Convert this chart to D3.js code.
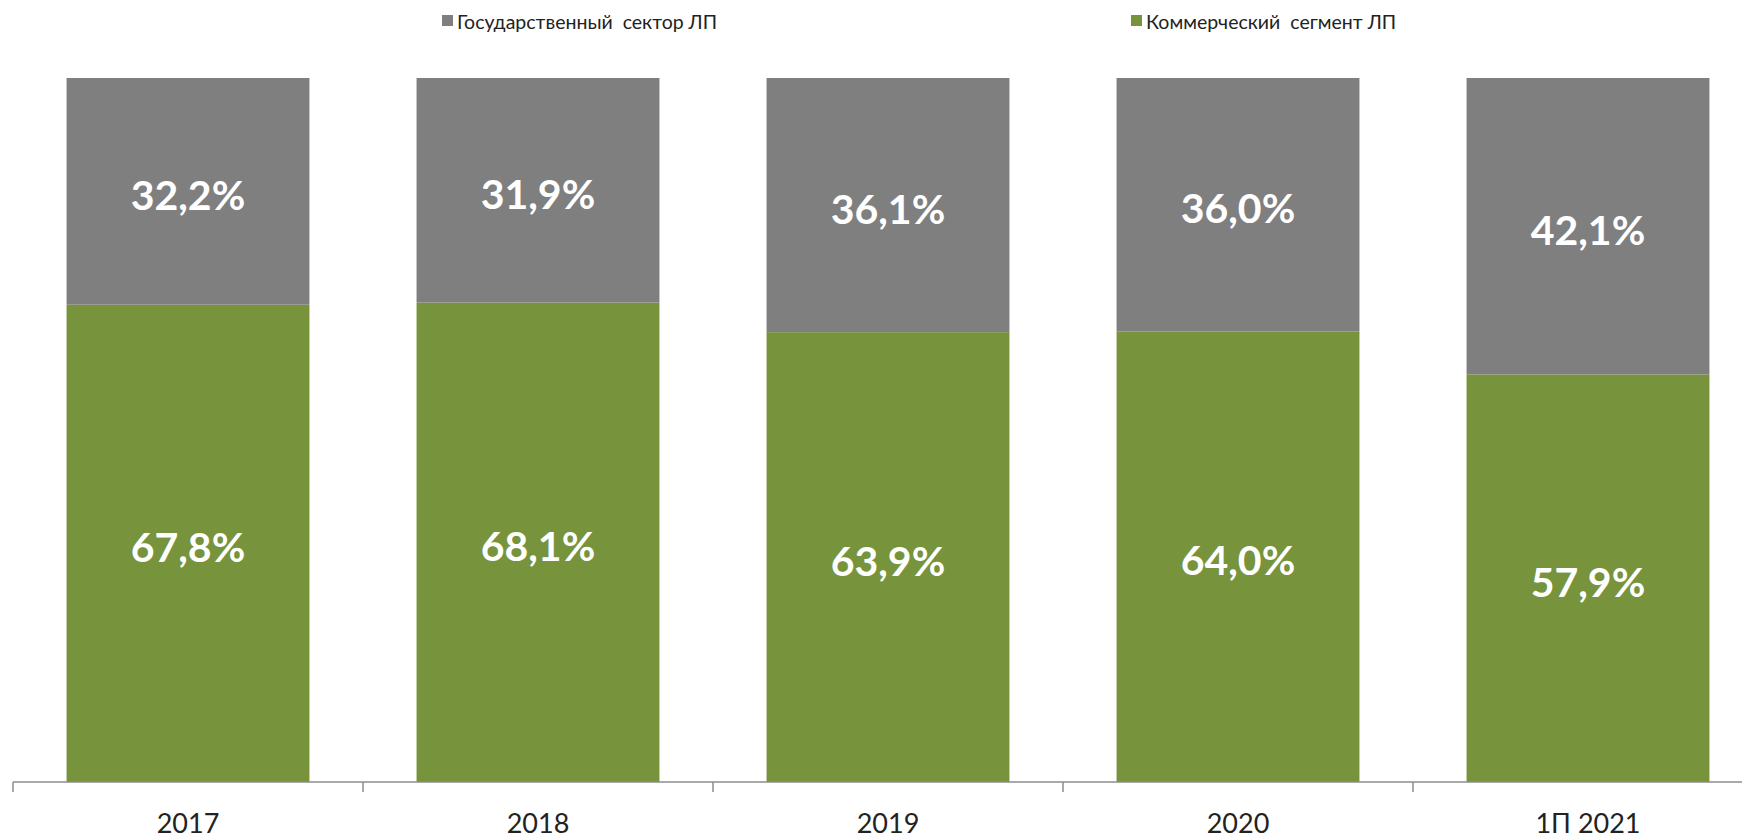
<!DOCTYPE html>
<html>
<head>
<meta charset="utf-8">
<script src="https://cdn.jsdelivr.net/npm/d3@7"></script>
<style>
  html, body { margin: 0; padding: 0; background: #fff; }
  svg { display: block; }
  text { font-family: Lato, "Open Sans", sans-serif; }
</style>
</head>
<body>
<svg id="chart" width="1742" height="838"></svg>
<script>
// Market structure by segment, share of total (%)
const categories = ["2017", "2018", "2019", "2020", "1П 2021"];
const stateSector = [32.2, 31.9, 36.1, 36.0, 42.1];
const commercialSegment = [67.8, 68.1, 63.9, 64.0, 57.9];
const seriesNames = ["Государственный  сектор ЛП", "Коммерческий  сегмент ЛП"];
const seriesColors = ["#7f7f7f", "#77933c"];

const W = 1742, H = 838;
const svg = d3.select("#chart");

const x = d3.scaleBand()
  .domain(categories)
  .range([13, 1763])
  .paddingInner(0.306)
  .paddingOuter(0.153);

const y = d3.scaleLinear().domain([0, 100]).range([782, 78]);

const rows = categories.map((c, i) => ({
  cat: c,
  commercial: commercialSegment[i],
  state: stateSector[i]
}));

const stack = d3.stack().keys(["commercial", "state"]);
const layers = stack(rows);
const colorByKey = { commercial: seriesColors[1], state: seriesColors[0] };

const fmt = v => v.toFixed(1).replace(".", ",") + "%";

const labelSize = 41;
const g = svg.append("g");

layers.forEach(layer => {
  const lg = g.append("g");
  lg.selectAll("rect")
    .data(layer)
    .join("rect")
    .attr("x", d => x(d.data.cat))
    .attr("width", x.bandwidth())
    .attr("y", d => y(d[1]))
    .attr("height", d => y(d[0]) - y(d[1]))
    .attr("fill", colorByKey[layer.key]);

  // value labels, digits vertically centred a little below the segment middle
  lg.selectAll("text")
    .data(layer)
    .join("text")
    .attr("x", d => x(d.data.cat) + x.bandwidth() / 2)
    .attr("y", d => (y(d[0]) + y(d[1])) / 2 + 4 + labelSize * 0.36)
    .attr("text-anchor", "middle")
    .attr("fill", "#ffffff")
    .attr("font-size", labelSize)
    .attr("font-weight", 700)
    .text(d => fmt(d.data[layer.key]));
});

// Category axis along the base
const axisY = 782;
const axisG = svg.append("g");
axisG.append("line")
  .attr("x1", 13).attr("x2", W)
  .attr("y1", axisY).attr("y2", axisY)
  .attr("stroke", "#8c8c8c").attr("stroke-width", 1.5);

const boundaries = categories.map(c => x(c) - (x.step() - x.bandwidth()) / 2);
axisG.selectAll("line.tick")
  .data(boundaries)
  .join("line")
  .attr("class", "tick")
  .attr("x1", d => d).attr("x2", d => d)
  .attr("y1", axisY).attr("y2", axisY + 10)
  .attr("stroke", "#8c8c8c").attr("stroke-width", 1.5);

axisG.selectAll("text")
  .data(categories)
  .join("text")
  .attr("x", d => x(d) + x.bandwidth() / 2)
  .attr("y", 822)
  .attr("text-anchor", "middle")
  .attr("dominant-baseline", "central")
  .attr("fill", "#222")
  .attr("font-size", 27)
  .text(d => d);

// Legend
const legendItems = [
  { name: seriesNames[0], color: seriesColors[0], x: 442 },
  { name: seriesNames[1], color: seriesColors[1], x: 1131 }
];
const leg = svg.append("g");
legendItems.forEach(it => {
  leg.append("rect")
    .attr("x", it.x).attr("y", 15)
    .attr("width", 11).attr("height", 11)
    .attr("fill", it.color);
  leg.append("text")
    .attr("x", it.x + 15).attr("y", 21)
    .attr("dominant-baseline", "central")
    .attr("fill", "#222")
    .attr("font-size", 19.5)
    .style("white-space", "pre")
    .text(it.name);
});
</script>
</body>
</html>
